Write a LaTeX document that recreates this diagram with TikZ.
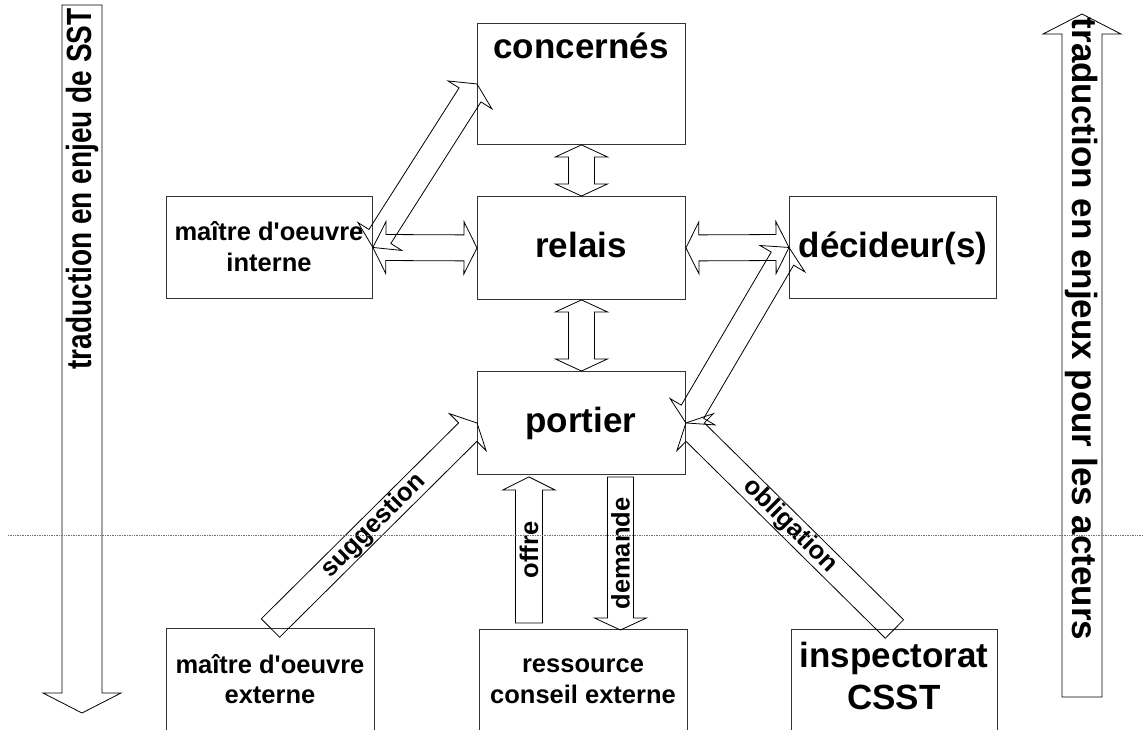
\documentclass[tikz,border=0pt]{standalone}
\usepackage{fontspec}
\setmainfont{Liberation Sans}
\usetikzlibrary{calc}

% outlined block arrow with one head: start, end, shaft half-width, head half-width, head length
\newcommand\blockarrow[5]{%
  \draw[arrowline] let \p1=(#1), \p2=(#2),
      \n1={atan2(\y2-\y1,\x2-\x1)}, \n2={veclen(\x2-\x1,\y2-\y1)} in
    ($(\p1)+(\n1+90:#3)$)
    -- ($(\p1)+(\n1:{\n2*1pt-#5})+(\n1+90:#3)$)
    -- ($(\p1)+(\n1:{\n2*1pt-#5})+(\n1+90:#4)$)
    -- (\p2)
    -- ($(\p1)+(\n1:{\n2*1pt-#5})+(\n1-90:#4)$)
    -- ($(\p1)+(\n1:{\n2*1pt-#5})+(\n1-90:#3)$)
    -- ($(\p1)+(\n1-90:#3)$) -- cycle;
}
% outlined block arrow with a head at both ends
\newcommand\blockdarrow[5]{%
  \draw[arrowline] let \p1=(#1), \p2=(#2),
      \n1={atan2(\y2-\y1,\x2-\x1)}, \n2={veclen(\x2-\x1,\y2-\y1)} in
    ($(\p1)+(\n1:#5)+(\n1+90:#3)$)
    -- ($(\p1)+(\n1:{\n2*1pt-#5})+(\n1+90:#3)$)
    -- ($(\p1)+(\n1:{\n2*1pt-#5})+(\n1+90:#4)$)
    -- (\p2)
    -- ($(\p1)+(\n1:{\n2*1pt-#5})+(\n1-90:#4)$)
    -- ($(\p1)+(\n1:{\n2*1pt-#5})+(\n1-90:#3)$)
    -- ($(\p1)+(\n1:#5)+(\n1-90:#3)$)
    -- ($(\p1)+(\n1:#5)+(\n1-90:#4)$)
    -- (\p1)
    -- ($(\p1)+(\n1:#5)+(\n1+90:#4)$) -- cycle;
}

\tikzset{
  box/.style={draw=black!80, line width=0.9pt, rectangle, inner sep=0pt, anchor=north west},
  arrowline/.style={draw=black, line width=0.8pt, line join=miter},
  bigtext/.style={font=\fontsize{35}{40}\selectfont\bfseries, inner sep=0pt},
  smalltext/.style={font=\fontsize{25.5}{30}\selectfont\bfseries, inner sep=0pt},
  sep/.style={draw=black!55, line width=0.7pt, densely dotted},
}

\begin{document}
\begin{tikzpicture}[x=1pt, y=-1pt]
\useasboundingbox (0,0) rectangle (1143,729);
\fill[white] (0,0) rectangle (1143,729);
\clip (0,0) rectangle (1143,729);

% boxes
\node[box, minimum width=208pt, minimum height=121pt] (conc) at (477,23) {};
\node[box, minimum width=208pt, minimum height=103pt] (relais) at (477,196) {};
\node[box, minimum width=206pt, minimum height=102pt] (mi) at (166,196) {};
\node[box, minimum width=207pt, minimum height=102pt] (dec) at (789,196) {};
\node[box, minimum width=208pt, minimum height=103pt] (portier) at (477,371) {};
\node[box, minimum width=208pt, minimum height=120pt] (mx) at (166,628) {};
\node[box, minimum width=208pt, minimum height=120pt] (res) at (479,629) {};
\node[box, minimum width=206pt, minimum height=120pt] (insp) at (791,629) {};

% box labels
\node[bigtext, anchor=base] (concT) at (581,58) {concernés};
\node[bigtext, anchor=base] (relT) at (581,257) {relais};
\node[bigtext, anchor=base] (decT) at (893,257) {décideur(s)};
\node[bigtext, anchor=base] (porT) at (581,432) {portier};
\node[smalltext, anchor=base] (miT1) at (269,240) {maître d\textquotesingle oeuvre};
\node[smalltext, anchor=base] (miT2) at (269,271) {interne};
\node[smalltext, anchor=base] (mxT1) at (270,673) {maître d\textquotesingle oeuvre};
\node[smalltext, anchor=base] (mxT2) at (270,703) {externe};
\node[smalltext, anchor=base] (resT1) at (583,672) {ressource};
\node[smalltext, anchor=base] (resT2) at (583,703) {conseil externe};
\node[bigtext, anchor=base] (inspT1) at (894,667) {inspectorat};
\node[bigtext, anchor=base] (inspT2) at (894,709) {CSST};

% exchanges between the actors
\blockdarrow{mi.east}{conc.west}{13pt}{26pt}{13pt}
\blockdarrow{mi.east}{relais.west}{13pt}{26pt}{13pt}
\blockdarrow{conc.south}{relais.north}{13pt}{26pt}{12pt}
\blockdarrow{relais.east}{dec.west}{13pt}{26pt}{13pt}
\blockdarrow{relais.south}{portier.north}{13pt}{26pt}{12pt}
\blockdarrow{portier.east}{dec.west}{13pt}{26pt}{13pt}
\blockarrow{mx.north}{portier.west}{13pt}{26pt}{13pt}
\blockarrow{insp.north}{portier.east}{13pt}{26pt}{13pt}

\coordinate (offA) at ($(res.north)+(-54.5,-6)$);
\coordinate (offB) at ($(portier.south)+(-52.5,2)$);
\coordinate (demA) at ($(portier.south)+(39,2)$);
\coordinate (demB) at ($(res.north)+(37,1)$);
\blockarrow{offA}{offB}{13.5pt}{26pt}{13pt}
\blockarrow{demA}{demB}{13pt}{26pt}{12pt}

\node[smalltext, rotate=45] (sugT) at ($(mx.north)!0.5!(portier.west)$) {suggestion};
\node[smalltext, rotate=-45] (oblT) at ($(insp.north)!0.5!(portier.east)$) {obligation};
\node[smalltext, rotate=90] (offT) at ($(offA)!0.5!(offB)$) {offre};
\node[smalltext, rotate=90] (demT) at ($(demA)!0.5!(demB)$) {demande};

% translation arrows on both sides
\coordinate (lt) at (82,5);
\coordinate (lb) at (82,713);
\coordinate (rb) at (1082,697);
\coordinate (rt) at (1082,14);
\blockarrow{lt}{lb}{20pt}{39pt}{20pt}
\blockarrow{rb}{rt}{20pt}{39pt}{20pt}
\node[bigtext, rotate=90] (leftT) at (82,189) {\scalebox{0.8}[1]{traduction en enjeu de SST}};
\node[bigtext, rotate=-90] (rightT) at (1082,329) {traduction en enjeux pour les acteurs};

% separation line
\coordinate (sepL) at (8,535);
\coordinate (sepR) at (1143,535);
\draw[sep] (sepL) -- (sepR);
\end{tikzpicture}
\end{document}
